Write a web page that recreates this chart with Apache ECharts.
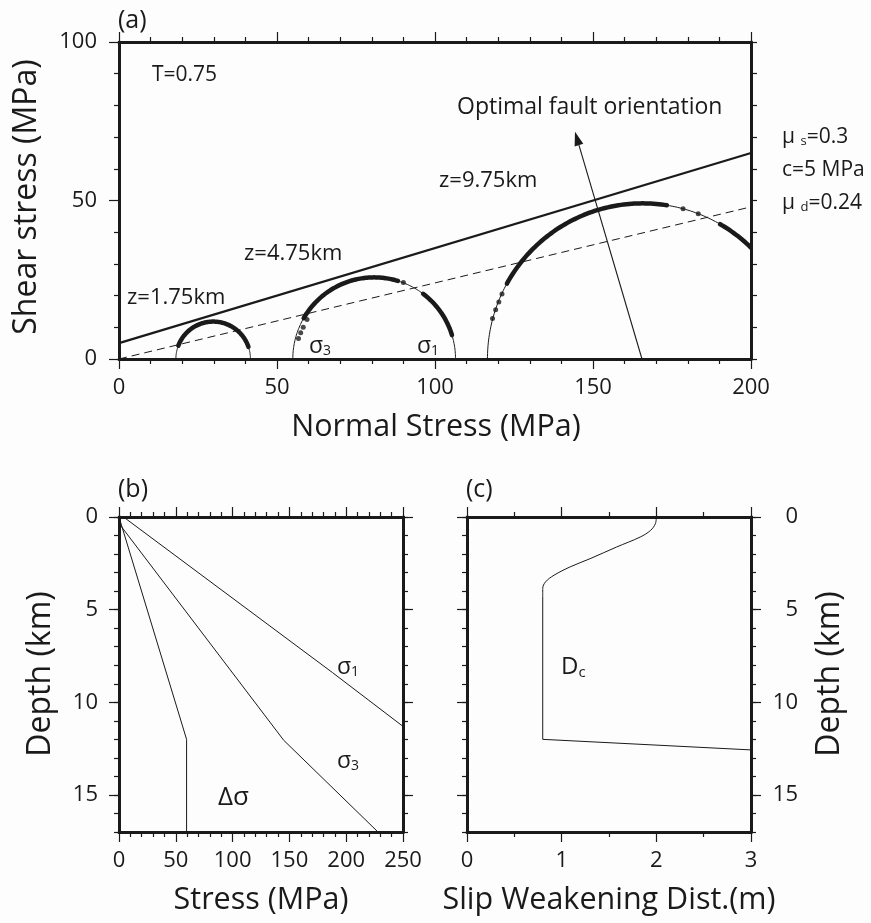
<!DOCTYPE html>
<html><head><meta charset="utf-8">
<script src="https://cdn.jsdelivr.net/npm/echarts@6/dist/echarts.min.js"></script>
<style>html,body{margin:0;padding:0;background:#fdfdfd}#c{width:871px;height:923px}</style>
</head><body><div id="c"></div>
<script>
// ---------- Panel (a): Mohr circles ----------
const normalTicks = [0, 50, 100, 150, 200];
const shearTicks = [0, 50, 100];
const depthLabels = ['z=1.75km', 'z=4.75km', 'z=9.75km'];
const sigma3A = [18.0, 55.0, 116.6];
const sigma1A = [41.6, 106.5, 214.8];
// thick (dense dots) arcs: [circle index, start angle, end angle], angle in degrees from the σ1 end
const thickArcs = [[0, 19, 159], [1, 73, 150], [1, 17, 53], [2, 81, 151], [2, 44, 60]];
const sparseDots = [[56.8, 6.5], [57.5, 8.3], [58.3, 10.0], [59.5, 12.5], [90.0, 24.1],
  [118.2, 12.8], [119.2, 15.5], [120.2, 18.0], [121.2, 20.5], [178.5, 47.4], [183.3, 45.8]];
const staticLine = [[0, 5], [200, 65]];
const dynamicLine = [[0, 0], [200, 48]];
const optimalArrow = [165.5, 0, 144.3, 71.7];
// ---------- Panel (b): stress vs depth ----------
const stressTicks = [0, 50, 100, 150, 200, 250];
const depthTicks = [0, 5, 10, 15];
const sigma1Profile = [[4, 0], [188, 8.4], [250, 11.3]];
const sigma3Profile = [[0, 0.35], [145, 12.05], [228, 17]];
const deltaSigmaProfile = [[0, 0], [59.5, 12], [59.5, 17]];
// ---------- Panel (c): slip weakening distance ----------
const dcTicks = [0, 1, 2, 3];
const dcCurve = [[2.0, 0], [1.99, 0.36], [1.94, 0.72], [1.83, 1.08], [1.58, 1.62], [1.30, 2.25],
  [1.09, 2.69], [0.92, 3.14], [0.83, 3.5], [0.80, 3.86], [0.80, 4.3]];
const dcLower = [[0.80, 4.3], [0.80, 12.0], [3.0, 12.57]];

const INK = '#1a1a1a';
const FONT = 'Open Sans';

const thinCircles = sigma3A.map((s3, i) => [s3, sigma1A[i], 0, 180, 1]);
const thickData = thickArcs.map(a => [sigma3A[a[0]], sigma1A[a[0]], a[1], a[2], 4.5]);

function arcRender(params, api) {
  const s3 = api.value(0), s1 = api.value(1), a0 = api.value(2), a1 = api.value(3), w = api.value(4);
  const c = (s1 + s3) / 2, r = (s1 - s3) / 2;
  const n = Math.max(6, Math.ceil(Math.abs(a1 - a0)));
  const pts = [];
  for (let i = 0; i <= n; i++) {
    const t = (a0 + (a1 - a0) * i / n) * Math.PI / 180;
    pts.push(api.coord([c + r * Math.cos(t), r * Math.sin(t)]));
  }
  return { type: 'polyline', shape: { points: pts },
    style: { stroke: INK, lineWidth: w, fill: null, lineCap: 'round', lineJoin: 'round' } };
}
function arrowRender(params, api) {
  const p0 = api.coord([api.value(0), api.value(1)]);
  const p1 = api.coord([api.value(2), api.value(3)]);
  const dx = p1[0] - p0[0], dy = p1[1] - p0[1], L = Math.hypot(dx, dy);
  const ux = dx / L, uy = dy / L, hl = 14, hw = 4.5;
  const b = [p1[0] - ux * hl, p1[1] - uy * hl];
  return { type: 'group', children: [
    { type: 'line', shape: { x1: p0[0], y1: p0[1], x2: b[0], y2: b[1] }, style: { stroke: INK, lineWidth: 1.1 } },
    { type: 'polygon', shape: { points: [p1, [b[0] - uy * hw, b[1] + ux * hw], [b[0] + uy * hw, b[1] - ux * hw]] },
      style: { fill: INK } },
  ] };
}

function axisBase(o) {
  const base = {
    type: 'value', splitLine: { show: false },
    axisLine: { show: true, onZero: false, lineStyle: { color: INK, width: 3 } },
    axisTick: { show: true, inside: false, length: 10, lineStyle: { color: INK, width: 1.2 } },
    axisLabel: { show: false, color: INK, fontSize: 22, fontFamily: FONT },
  };
  return Object.assign(base, o, {
    axisTick: Object.assign(base.axisTick, o.axisTick || {}),
    axisLabel: Object.assign(base.axisLabel, o.axisLabel || {}),
  });
}
const minorT = { show: true, splitNumber: 5, length: 5, lineStyle: { color: INK, width: 1.2 } };

const xAxes = [
  axisBase({ gridIndex: 0, position: 'bottom', min: 0, max: 200, interval: 50, minorTick: minorT,
    axisLabel: { show: true, margin: 18, customValues: normalTicks } }),
  axisBase({ gridIndex: 0, position: 'top', min: 0, max: 200, interval: 50, minorTick: minorT }),
  axisBase({ gridIndex: 1, position: 'bottom', min: 0, max: 250, interval: 50, minorTick: minorT,
    axisLabel: { show: true, margin: 18, customValues: stressTicks } }),
  axisBase({ gridIndex: 1, position: 'top', min: 0, max: 250, interval: 50, minorTick: minorT }),
  axisBase({ gridIndex: 2, position: 'bottom', min: 0, max: 3, interval: 1,
    minorTick: Object.assign({}, minorT, { splitNumber: 2 }),
    axisLabel: { show: true, margin: 18, customValues: dcTicks } }),
  axisBase({ gridIndex: 2, position: 'top', min: 0, max: 3, interval: 1,
    minorTick: Object.assign({}, minorT, { splitNumber: 2 }) }),
];
const depthMajor = (grid, pos, labels, extra) => axisBase(Object.assign({ gridIndex: grid, position: pos, inverse: true,
  min: 0, max: 17, interval: 5, axisTick: { customValues: depthTicks },
  axisLabel: { show: labels, customValues: depthTicks, margin: 21 } }, extra || {}));
const depthMinor = (grid, pos) => axisBase({ gridIndex: grid, position: pos, inverse: true,
  min: 0, max: 17, interval: 1, axisTick: { length: 5 } });
const yAxes = [
  axisBase({ gridIndex: 0, position: 'left', min: 0, max: 100, interval: 50, minorTick: minorT,
    axisLabel: { show: true, margin: 22, customValues: shearTicks } }),
  axisBase({ gridIndex: 0, position: 'right', min: 0, max: 100, interval: 50,
    axisTick: { length: 6 }, minorTick: Object.assign({}, minorT, { length: 6 }) }),
  depthMajor(1, 'left', true),
  depthMinor(1, 'left'),
  depthMajor(1, 'right', false),
  depthMinor(1, 'right'),
  depthMajor(2, 'left', false),
  depthMinor(2, 'left'),
  depthMajor(2, 'right', true, { axisLabel: { show: true, customValues: depthTicks, margin: 47, align: 'right' } }),
  depthMinor(2, 'right'),
];

function txt(x, y, text, size, extra) {
  return { type: 'text', x: x, y: y, rotation: (extra && extra.rotation) || 0,
    style: { text: text, fill: INK, fontSize: size, fontFamily: FONT,
      textAlign: (extra && extra.align) || 'left', textVerticalAlign: 'middle' } };
}
function rich(x, y, text, size, extra) {
  return { type: 'text', x: x, y: y, rotation: (extra && extra.rotation) || 0,
    style: { text: text, fill: INK, fontFamily: FONT, fontSize: size,
      textAlign: (extra && extra.align) || 'left', textVerticalAlign: 'middle',
      rich: {
        g: { fontSize: size, fontFamily: FONT, fill: INK },
        s: { fontSize: Math.round(size * 0.62), fontFamily: FONT, fill: INK, verticalAlign: 'bottom', padding: [Math.round(size * 0.45), 0, 0, 0] }
      } } };
}
const ROT = Math.PI / 2;
const graphics = [
  txt(118, 21, '(a)', 25),
  txt(152, 75, 'T=0.75', 21),
  txt(457, 107, 'Optimal fault orientation', 23),
  txt(439, 181, depthLabels[2], 22),
  txt(244, 254, depthLabels[1], 22),
  txt(127, 298, depthLabels[0], 22),
  rich(309, 346, '{g|σ}{s|3}', 23),
  rich(417, 346, '{g|σ}{s|1}', 23),
  rich(782, 137, '{g|μ }{s|s}{g|=0.3}', 21),
  txt(782, 170, 'c=5 MPa', 21),
  rich(782, 203, '{g|μ }{s|d}{g|=0.24}', 21),
  txt(27, 197, 'Shear stress (MPa)', 32, { rotation: ROT, align: 'center' }),
  txt(436, 427, 'Normal Stress (MPa)', 30.5, { align: 'center' }),
  txt(118, 490, '(b)', 25),
  rich(337, 667, '{g|σ}{s|1}', 23),
  rich(337, 761, '{g|σ}{s|3}', 23),
  txt(218, 798, 'Δσ', 26),
  txt(466, 490, '(c)', 25),
  rich(561, 667, '{g|D}{s|c}', 24),
  txt(41, 674, 'Depth (km)', 32, { rotation: ROT, align: 'center' }),
  txt(830, 674, 'Depth (km)', 32, { rotation: ROT, align: 'center' }),
  txt(261, 900, 'Stress (MPa)', 30.5, { align: 'center' }),
  txt(609, 900, 'Slip Weakening Dist.(m)', 30.5, { align: 'center' }),
];

const lineS = (xi, yi, data, extra) => Object.assign({ type: 'line', xAxisIndex: xi, yAxisIndex: yi, data: data,
  showSymbol: false, symbol: 'none', silent: true, animation: false, clip: true,
  lineStyle: { color: INK, width: 1 } }, extra || {});

const option = {
  backgroundColor: '#fdfdfd',
  animation: false,
  grid: [
    { left: 119, top: 42, width: 632, height: 317 },
    { left: 119, top: 517, width: 284, height: 315 },
    { left: 467, top: 517, width: 284, height: 315 },
  ],
  xAxis: xAxes,
  yAxis: yAxes,
  graphic: graphics,
  series: [
    lineS(0, 0, dynamicLine, { lineStyle: { color: INK, width: 1, type: [8, 5] } }),
    lineS(0, 0, staticLine, { lineStyle: { color: INK, width: 2.2 } }),
    { type: 'custom', xAxisIndex: 0, yAxisIndex: 0, clip: true, silent: true, data: thinCircles, renderItem: arcRender },
    { type: 'custom', xAxisIndex: 0, yAxisIndex: 0, clip: true, silent: true, data: thickData, renderItem: arcRender },
    { type: 'scatter', xAxisIndex: 0, yAxisIndex: 0, data: sparseDots, symbolSize: 5, silent: true,
      itemStyle: { color: INK } },
    { type: 'custom', xAxisIndex: 0, yAxisIndex: 0, silent: true, data: [optimalArrow], renderItem: arrowRender },
    lineS(2, 2, sigma1Profile),
    lineS(2, 2, sigma3Profile),
    lineS(2, 2, deltaSigmaProfile),
    lineS(4, 6, dcCurve, { smooth: 0.35 }),
    lineS(4, 6, dcLower),
  ],
};
const chart = echarts.init(document.getElementById('c'));
chart.setOption(option);
</script></body></html>
